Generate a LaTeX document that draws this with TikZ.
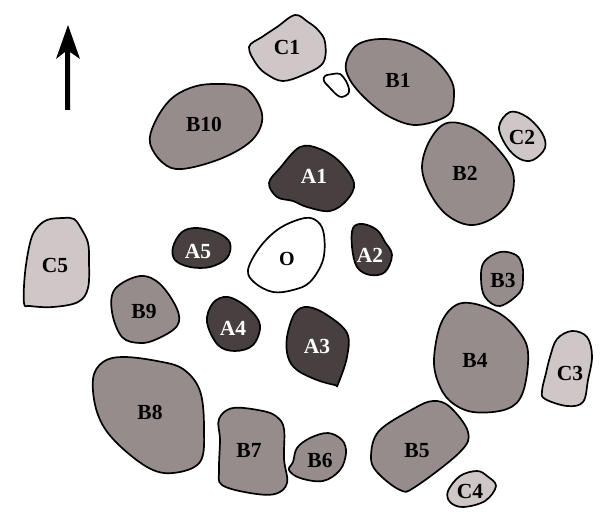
\documentclass[tikz,border=0pt]{standalone}
\usepackage{fontspec}
\setmainfont{Liberation Serif}
\definecolor{cA}{HTML}{483F40}
\definecolor{cB}{HTML}{968C8C}
\definecolor{cC}{HTML}{CFC7C7}
\tikzset{
  blob/.style={draw=black,line width=1.7bp,line join=round},
  groupA/.style={blob,fill=cA},
  groupB/.style={blob,fill=cB},
  groupC/.style={blob,fill=cC},
  hollow/.style={blob,fill=white},
  lblK/.style={font=\fontsize{21.5bp}{23bp}\selectfont\bfseries,text=black,inner sep=0pt},
  lblW/.style={font=\fontsize{21.5bp}{23bp}\selectfont\bfseries,text=white,inner sep=0pt},
  lblO/.style={font=\fontsize{20bp}{22bp}\selectfont\bfseries,text=black,inner sep=0pt},
}
\newcommand{\blobshape}[2]{\path[#1] plot[smooth cycle,tension=0.6] coordinates {#2};}
\begin{document}
\begin{tikzpicture}[x=1bp,y=-1bp]
\useasboundingbox (0,0) rectangle (600,519);
% arrow
\coordinate (arrowTip) at (68,25);
\fill[black] (65,110) -- (65,52) -- (56,59) -- (arrowTip) -- (80,59) -- (70,52) -- (70,110) -- cycle;
% group C
\blobshape{groupC}{(295,15)(308,22)(318,30)(325,42)(323,63)(303,75)(283,81)(268,75)(257,65)(249,47)(262,37)(277,27)}
\blobshape{groupC}{(510,112)(527,117)(542,133)(545,148)(533,160)(520,159)(507,147)(499,127)}
\blobshape{groupC}{(572,331)(587,337)(592,356)(588,380)(583,402)(567,406)(545,399)(542,391)(546,373)(550,357)(557,339)}
\blobshape{groupC}{(477,471)(487,476)(496,486)(485,501)(463,507)(450,502)(448,491)(460,476)}
\blobshape{groupC}{(63,218)(74,219)(82,230)(88,243)(89,260)(88,288)(78,302)(53,307)(30,306)(24,303)(25,273)(30,243)(36,229)(47,220)}
% small blob
\blobshape{hollow}{(325,76)(333,74)(340,74)(346,81)(349,89)(348,94)(342,97)(337,95)(330,88)(324,81)}
% group B
\blobshape{groupB}{(380,39)(407,43)(433,58)(450,78)(454,95)(448,115)(417,125)(390,117)(367,100)(350,80)(346,63)(357,45)}
\blobshape{groupB}{(447,123)(473,128)(497,148)(513,173)(510,200)(493,218)(470,225)(447,215)(430,193)(422,167)(430,140)}
\blobshape{groupB}{(500,252)(516,255)(522,265)(523,276)(520,292)(500,306)(485,297)(481,279)(484,262)}
\blobshape{groupB}{(470,303)(497,312)(517,329)(528,352)(523,392)(507,409)(473,412)(450,401)(438,382)(434,359)(440,326)(453,307)}
\blobshape{groupB}{(433,401)(450,407)(468,432)(460,452)(415,487)(400,490)(377,472)(371,456)(379,431)(413,409)}
\blobshape{groupB}{(328,433)(342,440)(346,453)(340,470)(323,481)(300,478)(289,470)(293,462)(297,448)(310,438)}
\blobshape{groupB}{(233,408)(263,411)(277,417)(284,429)(284,459)(287,483)(275,494)(250,493)(222,485)(219,470)(220,440)(219,419)}
\blobshape{groupB}{(123,357)(157,361)(183,369)(200,391)(204,429)(200,462)(173,473)(147,467)(113,439)(97,412)(93,379)(103,362)}
\blobshape{groupB}{(140,276)(160,284)(177,309)(177,326)(157,339)(140,343)(122,337)(112,312)(115,289)}
\blobshape{groupB}{(213,84)(243,87)(258,103)(262,122)(250,142)(220,159)(182,169)(163,163)(150,143)(155,122)(170,100)(190,88)}
% group A
\blobshape{groupA}{(300,147)(320,149)(340,162)(354,183)(347,200)(330,211)(307,207)(293,201)(277,197)(269,183)(280,168)}
\blobshape{groupA}{(363,224)(377,230)(385,242)(392,255)(385,272)(370,275)(357,267)(352,247)(353,228)}
\blobshape{groupA}{(308,307)(327,315)(347,333)(347,357)(338,384)(335,385)(317,380)(297,370)(288,357)(287,337)(295,313)}
\blobshape{groupA}{(228,297)(248,308)(260,325)(253,345)(235,351)(218,345)(207,322)(213,303)}
\blobshape{groupA}{(197,228)(218,233)(230,243)(227,258)(210,267)(190,267)(175,260)(173,247)(182,232)}
% centre
\blobshape{hollow}{(305,218)(318,222)(324,235)(323,260)(310,282)(293,290)(273,292)(255,283)(248,270)(260,247)(280,228)}
% labels
\node[lblK] (C1) at (287,47) {C1};
\node[lblK] (B1) at (398,80) {B1};
\node[lblK] (B10) at (204,124) {B10};
\node[lblK] (C2) at (522,137) {C2};
\node[lblW] (A1) at (314,176) {A1};
\node[lblK] (B2) at (465,173) {B2};
\node[lblW] (A5) at (198,252) {A5};
\node[lblO] (O) at (287,258.5) {O};
\node[lblW] (A2) at (370,255) {A2};
\node[lblK] (C5) at (55,265) {C5};
\node[lblK] (B3) at (503,280) {B3};
\node[lblK] (B9) at (144,311) {B9};
\node[lblW] (A4) at (233,328) {A4};
\node[lblW] (A3) at (317,346) {A3};
\node[lblK] (B4) at (475,360) {B4};
\node[lblK] (C3) at (570,373) {C3};
\node[lblK] (B8) at (150,412) {B8};
\node[lblK] (B7) at (249,450) {B7};
\node[lblK] (B6) at (320,460) {B6};
\node[lblK] (B5) at (417,451) {B5};
\node[lblK] (C4) at (470,491) {C4};
\end{tikzpicture}
\end{document}
